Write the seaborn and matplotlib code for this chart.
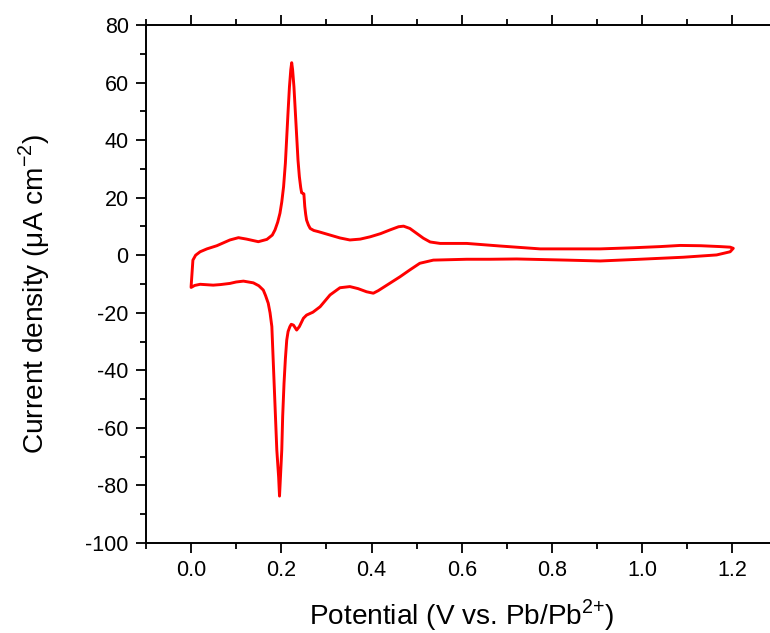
import numpy as np
import pandas as pd
import matplotlib
matplotlib.use("Agg")
import matplotlib.pyplot as plt
from matplotlib.ticker import MultipleLocator
import seaborn as sns

# Anodic (forward) sweep: potential (V) and current density (uA cm^-2)
anodic_v = [0.000, 0.002, 0.004, 0.010, 0.020, 0.035, 0.057, 0.086, 0.105, 0.123,
            0.149, 0.168, 0.180, 0.186, 0.192, 0.197, 0.201, 0.205, 0.209, 0.212,
            0.215, 0.218, 0.221, 0.223, 0.225, 0.228, 0.231, 0.234, 0.237, 0.240,
            0.243, 0.245, 0.248, 0.250, 0.252, 0.254, 0.256, 0.260, 0.264, 0.272,
            0.282, 0.308, 0.330, 0.352, 0.375, 0.397, 0.420, 0.441, 0.460, 0.471,
            0.485, 0.500, 0.515, 0.530, 0.552, 0.611, 0.685, 0.774, 0.850, 0.907,
            0.981, 1.040, 1.084, 1.130, 1.173, 1.195, 1.202]
anodic_i = [-10.9, -6.0, -1.7, 0.0, 1.2, 2.2, 3.3, 5.3, 6.1, 5.6,
            4.7, 5.5, 7.0, 8.8, 11.5, 14.6, 18.5, 23.8, 32.0, 41.2,
            50.0, 58.5, 64.5, 66.9, 64.5, 58.5, 50.0, 41.2, 33.0, 27.3,
            23.5, 21.7, 21.5, 21.3, 16.9, 14.2, 12.2, 10.5, 9.3, 8.6,
            8.2, 7.0, 6.0, 5.3, 5.6, 6.4, 7.5, 8.8, 9.9, 10.1,
            9.3, 7.6, 5.9, 4.6, 4.1, 4.1, 3.2, 2.2, 2.2, 2.2,
            2.6, 3.0, 3.4, 3.3, 3.0, 2.8, 2.4]

# Cathodic (reverse) sweep
cathodic_v = [1.202, 1.195, 1.165, 1.091, 0.995, 0.907, 0.833, 0.722, 0.663, 0.611,
              0.537, 0.507, 0.485, 0.463, 0.434, 0.415, 0.404, 0.389, 0.370, 0.352,
              0.330, 0.308, 0.286, 0.270, 0.256, 0.249, 0.244, 0.240, 0.234, 0.230,
              0.227, 0.222, 0.219, 0.215, 0.212, 0.209, 0.206, 0.203, 0.201, 0.198,
              0.196, 0.194, 0.190, 0.187, 0.184, 0.181, 0.179, 0.175, 0.171, 0.165,
              0.160, 0.150, 0.138, 0.116, 0.100, 0.086, 0.065, 0.049, 0.020, 0.008,
              0.000]
cathodic_i = [2.4, 1.2, 0.1, -0.7, -1.4, -2.0, -1.7, -1.3, -1.4, -1.4,
              -1.7, -2.8, -5.1, -7.5, -10.4, -12.3, -13.2, -12.7, -11.6, -10.9,
              -11.3, -13.8, -17.9, -19.8, -20.8, -21.9, -23.5, -24.8, -26.0, -25.0,
              -24.3, -24.0, -24.8, -26.5, -29.5, -36.0, -44.5, -56.0, -67.7, -77.0,
              -83.7, -77.0, -67.7, -56.0, -44.5, -33.0, -24.8, -20.0, -16.7, -14.0,
              -12.1, -10.6, -9.6, -9.0, -9.3, -9.8, -10.2, -10.4, -10.1, -10.5,
              -11.2]

x_ticks = [0.0, 0.2, 0.4, 0.6, 0.8, 1.0, 1.2]
y_ticks = [80, 60, 40, 20, 0, -20, -40, -60, -80, -100]

df = pd.DataFrame({
    "V": anodic_v + cathodic_v,
    "I": anodic_i + cathodic_i,
})

sns.set_style("ticks")
plt.rcParams["font.family"] = ["Liberation Sans", "DejaVu Sans"]
plt.rcParams["mathtext.fontset"] = "custom"
plt.rcParams["mathtext.rm"] = "Liberation Sans"
plt.rcParams["text.color"] = "black"
plt.rcParams["axes.labelcolor"] = "black"

fig = plt.figure(figsize=(7.70, 6.33), dpi=100)
ax = fig.add_axes([146 / 770, 90 / 633, 631.5 / 770, 518 / 633])

sns.lineplot(data=df, x="V", y="I", sort=False, estimator=None,
             color="#ff0000", linewidth=2.1, ax=ax)

ax.set_xlim(-0.1, 1.3)
ax.set_ylim(-100, 80)
ax.set_xticks(x_ticks)
ax.set_xticklabels([f"{v:.1f}" for v in x_ticks])
ax.set_yticks(y_ticks)
ax.set_yticklabels([str(v) for v in y_ticks])
ax.xaxis.set_minor_locator(MultipleLocator(0.1))
ax.yaxis.set_minor_locator(MultipleLocator(10))

for side in ["left", "bottom", "top"]:
    ax.spines[side].set_visible(True)
    ax.spines[side].set_linewidth(1.4)
    ax.spines[side].set_color("black")
ax.spines["right"].set_visible(False)

ax.tick_params(which="both", direction="out", top=True, labeltop=False,
               right=False, colors="black", labelcolor="black", width=1.3)
ax.tick_params(which="major", length=7.5, labelsize=15.5, pad=5)
ax.tick_params(which="minor", length=4.2)

ax.set_xlabel("Potential (V vs. Pb/Pb$^{\\mathregular{2{+}}}$)", fontsize=20.2,
              labelpad=11, color="black")
ax.set_ylabel("Current density (\u03bcA cm$^{\\mathregular{{-}2}}$)", fontsize=20.2,
              labelpad=24, color="black")
ax.yaxis.label.set_y(0.48)

fig.savefig("out.png", dpi=100)
